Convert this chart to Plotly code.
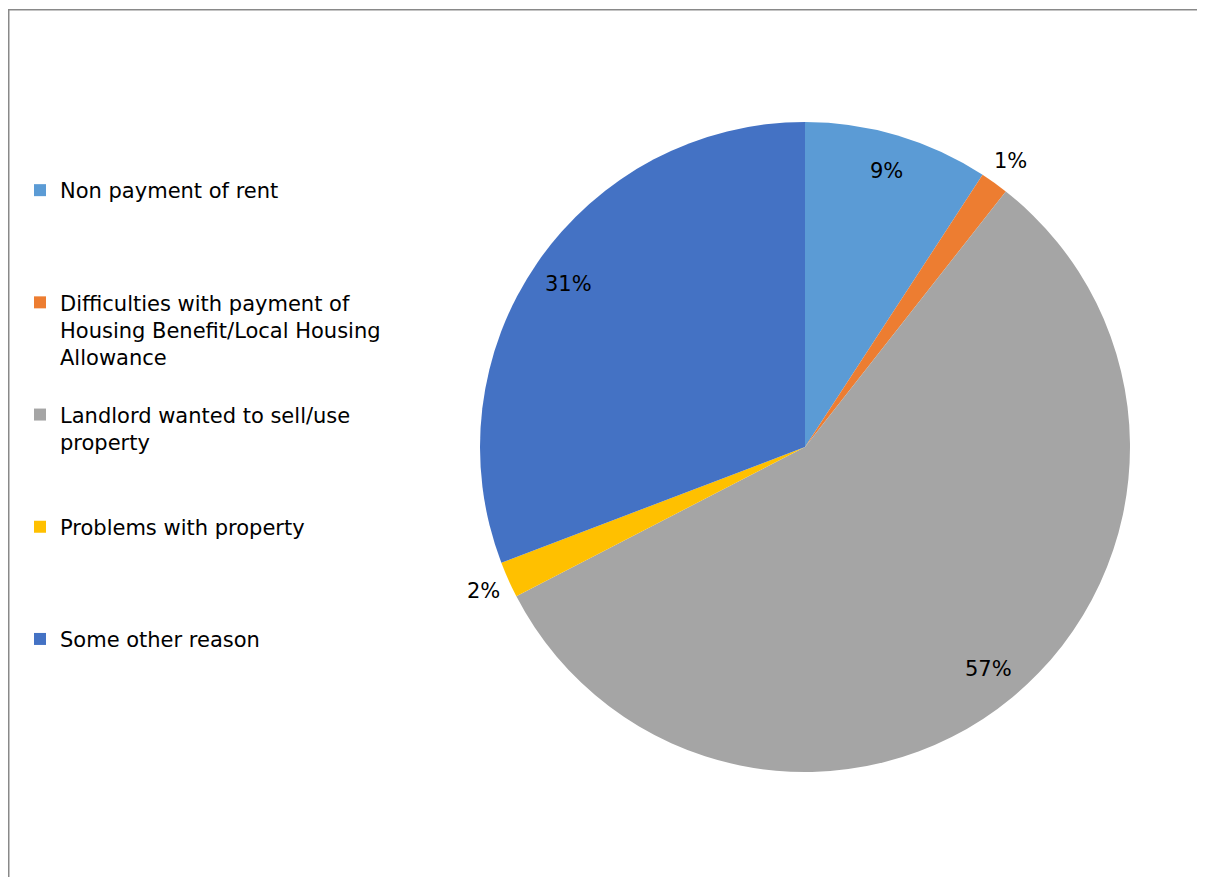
import math
import plotly.graph_objects as go

categories = [
    "Non payment of rent",
    "Difficulties with payment of<br>Housing Benefit/Local Housing<br>Allowance",
    "Landlord wanted to sell/use<br>property",
    "Problems with property",
    "Some other reason",
]
shares = [9.2, 1.4, 56.8, 1.8, 30.8]
colors = ["#5B9BD5", "#ED7D31", "#A5A5A5", "#FFC000", "#4472C4"]
label_inside = [True, False, True, False, True]

FONT = "DejaVu Sans"
W, H = 1205, 877
OFF = 8  # page body margin offset
CX, CY, R = 805 - OFF, 447 - OFF, 325

SLOT_LINES = 4
legend_names = []
for c in categories:
    n = c.count("<br>") + 1
    legend_names.append(c + "<br> " * max(0, SLOT_LINES - n))

fig = go.Figure(
    go.Pie(
        labels=legend_names,
        values=shares,
        sort=False,
        direction="clockwise",
        rotation=0,
        marker=dict(colors=colors, line=dict(width=0)),
        textinfo="none",
        domain=dict(x=[(CX - R) / W, (CX + R) / W], y=[1 - (CY + R) / H, 1 - (CY - R) / H]),
        hoverinfo="label+percent",
    )
)

# data labels placed along each slice's mid-angle (Excel "best fit" style)
total = sum(shares)
annotations = []
cum = 0.0
for v, inside in zip(shares, label_inside):
    mid = (cum + v / 2) / total * 2 * math.pi
    cum += v
    rr = R * (0.885 if inside else 1.083)
    px = CX + rr * math.sin(mid)
    py = CY - rr * math.cos(mid)
    annotations.append(
        dict(
            x=px / W,
            y=1 - py / H,
            xref="paper",
            yref="paper",
            text=f"{round(v / total * 100)}%",
            showarrow=False,
            font=dict(family=FONT, size=21, color="#000000"),
            xanchor="center",
            yanchor="middle",
        )
    )

fig.update_layout(
    width=W,
    height=H,
    margin=dict(l=0, r=0, t=0, b=0),
    paper_bgcolor="white",
    plot_bgcolor="white",
    font=dict(family=FONT, size=21, color="#000000"),
    annotations=annotations,
    legend=dict(
        x=12 / W,
        y=1 - 162 / H,
        xanchor="left",
        yanchor="top",
        valign="top",
        font=dict(family=FONT, size=21, color="#000000"),
        bgcolor="rgba(0,0,0,0)",
    ),
    shapes=[
        dict(type="line", xref="paper", yref="paper", x0=0, x1=1,
             y0=1 - 1.7 / H, y1=1 - 1.7 / H, line=dict(color="#898989", width=1.5)),
        dict(type="line", xref="paper", yref="paper", x0=0.75 / W, x1=0.75 / W,
             y0=0, y1=1 - 1.7 / H, line=dict(color="#898989", width=1.5)),
    ],
)

fig.write_html("out.html")
